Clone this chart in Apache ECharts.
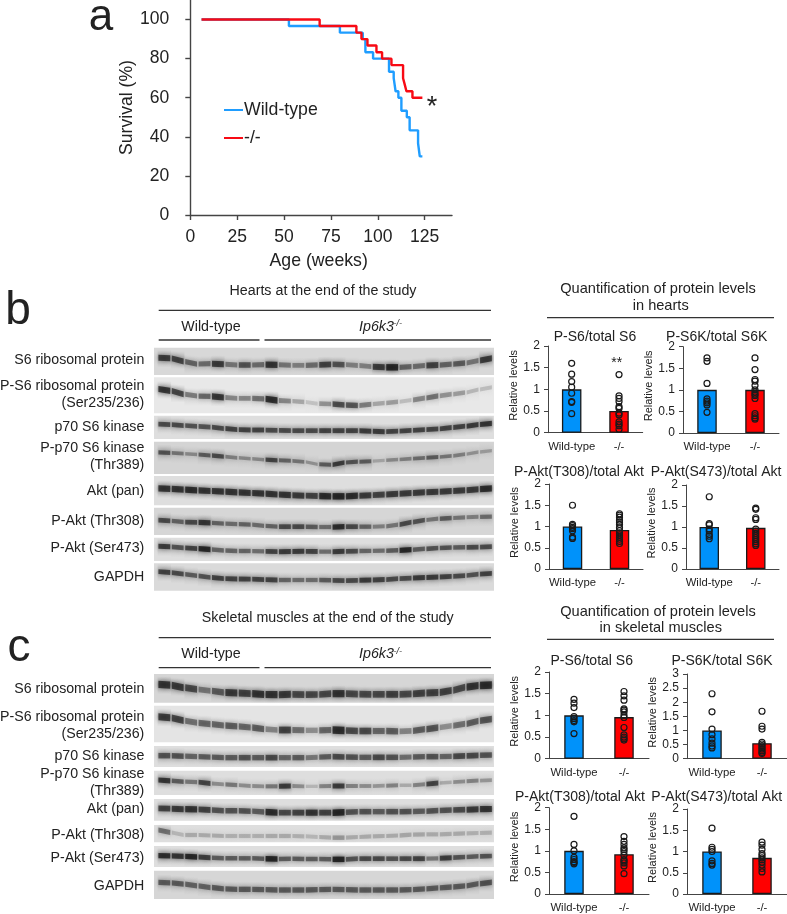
<!DOCTYPE html>
<html><head><meta charset="utf-8">
<style>html,body{margin:0;padding:0;background:#fff}#c{width:787px;height:914px}</style>
<script src="https://cdn.jsdelivr.net/npm/echarts@6/dist/echarts.min.js"></script>
</head><body><div id="c"></div>
<script>
// ---------- survival (week, percent) ----------
var survivalWT=[[6,100],[52.6,96.7],[79.8,93.3],[92,90],[93.4,83.3],[97.5,80],[106,73.3],[108.5,70],[109,66.7],[109.5,63.3],[111,60],[112.6,53.3],[115.5,50],[117,43.3],[121.5,36.7],[122.4,30],[123.8,30]];
var survivalKO=[[6,100],[69,96.7],[88.6,93.3],[91.3,90],[94.5,86.7],[99.3,83.3],[102.3,80],[107.3,76.7],[113.5,70],[114.4,66.7],[115.3,63.3],[118.5,60],[123.8,60]];
// ---------- quantification ----------
var groups=['Wild-type','-/-'];
var hS6Bars=[1,0.5], hS6WT=[1.6,1.35,1.18,1.05,0.91,0.72,0.7,0.44], hS6KO=[1.34,0.85,0.79,0.72,0.6,0.56,0.45,0.41,0.25,0.2,0.16,0.08];
var hS6KBars=[1,1], hS6KWT=[1.74,1.66,1.15,0.79,0.74,0.7,0.65,0.48], hS6KKO=[1.74,1.47,1.24,1.2,1.1,1,0.95,0.9,0.87,0.8,0.45,0.4,0.35,0.32];
var hT308Bars=[1,0.92], hT308WT=[1.5,1.05,1.02,0.98,0.95,0.9,0.75,0.72], hT308KO=[1.3,1.27,1.22,1.15,1.1,1.05,0.97,0.9,0.85,0.8,0.75,0.7,0.65,0.6];
var hS473Bars=[1,0.98], hS473WT=[1.72,1.08,1.05,0.95,0.9,0.82,0.78,0.72], hS473KO=[1.45,1.42,1.22,1.18,0.95,0.9,0.85,0.8,0.75,0.7,0.65,0.6,0.56];
var mS6Bars=[1,0.96], mS6WT=[1.37,1.28,1.18,0.97,0.93,0.88,0.85,0.58], mS6KO=[1.55,1.45,1.35,1.15,1.12,1.08,1,0.95,0.72,0.55,0.5,0.46,0.43];
var mS6KBars=[1,0.55], mS6KWT=[2.3,1.66,1.05,0.85,0.7,0.55,0.45,0.38], mS6KKO=[1.68,1.15,1.05,0.58,0.52,0.46,0.4,0.34,0.28,0.22,0.18];
var mT308Bars=[1,0.92], mT308WT=[1.8,1.15,1,0.85,0.8,0.75,0.73,0.7], mT308KO=[1.33,1.22,1.15,1.07,1.03,0.98,0.9,0.8,0.76,0.72,0.65,0.47];
var mS473Bars=[1,0.85], mS473WT=[1.55,1.1,1.05,1,0.78,0.72,0.68], mS473KO=[1.22,1.15,1.05,0.95,0.9,0.85,0.8,0.75,0.68,0.6,0.52];
// ---------- blots: band density and migration per lane (25 lanes) ----------
var blotLabels=[['S6 ribosomal protein'],['P-S6 ribosomal protein','(Ser235/236)'],['p70 S6 kinase'],['P-p70 S6 kinase','(Thr389)'],['Akt (pan)'],['P-Akt (Thr308)'],['P-Akt (Ser473)'],['GAPDH']];
var hDensity=[
[.8,.75,.55,.5,.8,.45,.65,.5,.85,.45,.4,.5,.75,.65,.4,.4,.8,.95,.55,.5,.75,.55,.6,.45,.8],
[.85,.75,.45,.55,.85,.4,.4,.5,.9,.4,.25,.12,.35,.7,.65,.45,.25,.3,.15,.4,.5,.35,.3,.18,.15],
[.7,.7,.65,.65,.7,.75,.75,.75,.7,.7,.7,.7,.75,.75,.75,.8,.8,.75,.75,.75,.75,.75,.75,.8,.85],
[.65,.45,.35,.6,.7,.4,.35,.35,.75,.55,.45,.3,.6,.8,.65,.6,.2,.35,.4,.5,.6,.45,.4,.3,.25],
[.85,.85,.9,.85,.85,.85,.85,.85,.85,.85,.8,.75,.9,.95,.9,.8,.75,.8,.8,.8,.8,.8,.8,.8,.9],
[.7,.55,.7,.85,.55,.5,.55,.5,.55,.7,.7,.6,.5,.9,.7,.55,.4,.45,.7,.65,.45,.6,.45,.4,.5],
[.8,.65,.75,.95,.55,.55,.55,.5,.75,.8,.8,.75,.5,.8,.7,.55,.5,.6,.95,.6,.65,.65,.6,.7,.7],
[.75,.7,.6,.65,.75,.75,.75,.75,.75,.55,.5,.5,.6,.7,.7,.8,.75,.7,.7,.8,.8,.75,.7,.65,.75]];
var hMigration=[
[233,237,252,252,250,255,255,255,253,256,256,256,253,253,255,258,262,262,262,258,255,255,250,248,235],
[327,338,348,348,350,355,355,355,358,365,362,370,372,372,378,375,370,368,362,358,350,345,340,335,322],
[432,435,438,440,443,448,450,450,450,452,452,452,452,452,452,452,455,455,452,450,448,445,440,437,430],
[517,520,522,525,528,532,535,538,540,542,543,548,558,550,545,545,542,540,537,535,532,530,525,520,512],
[625,628,630,632,634,636,638,640,642,645,646,648,648,650,648,646,645,642,640,638,636,634,632,630,625],
[720,725,727,727,730,732,733,735,740,740,740,740,742,740,740,740,740,738,730,723,717,715,713,711,710],
[799,802,805,807,810,813,813,813,815,815,814,814,815,815,813,813,812,812,810,808,805,803,802,802,800],
[875,880,885,890,895,897,897,898,900,900,900,900,900,902,902,900,900,897,895,893,892,890,888,885,880]];
var hRowTop=[203,292,407,485,588,683,773,850], hRowBottom=[285,400,477,582,676,765,843,932];
var hRowGray=[216,232,222,212,222,214,222,218];
var hRowThick=[6,6,5,4.5,6,5,5,5];
var hLabelY=[240,[318,369],440,[503,555],634,722,803,890];
var mDensity=[
[.85,.8,.7,.45,.6,.8,.75,.85,.85,.8,.7,.7,.7,.85,.7,.7,.7,.75,.7,.75,.75,.75,.7,.85,.9],
[.8,.75,.5,.55,.55,.6,.55,.6,.4,.75,.5,.35,.55,.9,.7,.7,.55,.6,.4,.6,.65,.35,.5,.6,.65],
[.65,.65,.55,.6,.6,.6,.65,.6,.7,.55,.6,.45,.6,.7,.65,.6,.7,.65,.5,.6,.65,.55,.7,.7,.65],
[.85,.6,.45,.75,.35,.45,.35,.35,.45,.8,.35,.15,.4,.8,.4,.35,.3,.4,.2,.4,.75,.2,.35,.4,.3],
[.75,.8,.85,.75,.65,.65,.65,.6,.9,.7,.75,.85,.75,.95,.65,.65,.6,.65,.65,.6,.65,.65,.7,.8,.85],
[.5,.15,.2,.2,.2,.18,.18,.18,.2,.2,.18,.15,.2,.3,.2,.2,.2,.2,.22,.22,.2,.2,.2,.18,.18],
[.9,.85,.95,.8,.6,.6,.6,.6,.98,.6,.6,.6,.6,.98,.65,.7,.7,.65,.7,.75,.45,.8,.65,.6,.65],
[.6,.6,.55,.55,.6,.6,.6,.6,.6,.6,.6,.6,.6,.6,.6,.6,.6,.6,.6,.6,.6,.6,.6,.6,.65]];
var mMigration=[
[253,258,268,268,277,278,280,282,285,283,283,285,282,280,282,283,283,283,283,280,278,277,265,258,255],
[350,357,367,370,375,378,380,385,390,390,390,392,390,390,393,393,393,393,395,390,385,380,375,368,357],
[467,467,470,470,473,473,473,473,473,473,473,473,470,470,472,472,472,472,472,470,470,470,468,467,465],
[540,545,545,548,553,553,558,558,560,558,558,560,558,558,558,558,558,556,556,555,550,548,545,543,540],
[625,627,628,628,632,632,633,634,638,638,638,638,638,638,635,635,635,635,635,634,633,630,630,628,627],
[690,705,705,705,708,708,708,708,708,708,708,710,712,714,712,710,708,708,705,703,703,703,700,700,698],
[767,768,770,772,774,775,775,775,778,776,776,778,776,780,776,776,776,776,776,776,776,774,772,770,768],
[847,850,855,860,865,868,868,868,870,870,870,870,868,868,870,870,870,870,870,868,865,862,860,855,847]];
var mRowTop=[222,317,438,512,597,675,738,812], mRowBottom=[308,427,501,585,662,727,801,897];
var mRowGray=[214,228,222,222,222,222,222,214];
var mRowThick=[7,7,6,5,6,6,5,6];
var mLabelY=[266,[351,402],468,[522,574],628,704,773,857];

// ---------- styles ----------
var FF='"Liberation Sans",Arial,sans-serif', TXT='#222', AX='#444';
var BLUE='#0092fa', RED='#ff0000';
var grids=[],xAxes=[],yAxes=[],series=[],gfx=[];
function text(x,y,s,size,align,extra){gfx.push({type:'text',silent:true,x:x,y:y,style:Object.assign({text:s,fill:TXT,font:(size)+'px '+FF,textAlign:align||'center',textVerticalAlign:'middle'},extra||{})});}
function hline(x1,x2,y,w,c){gfx.push({type:'line',silent:true,shape:{x1:x1,y1:y,x2:x2,y2:y},style:{stroke:c||'#333',lineWidth:w||1.2}});}

// ---------- panel a ----------
grids.push({left:190.3,top:0,width:261.7,height:215});
xAxes.push({gridIndex:0,type:'value',min:0,max:139.6,splitLine:{show:false},
 axisLine:{onZero:false,lineStyle:{color:AX,width:1.4}},
 axisTick:{length:5,lineStyle:{color:AX,width:1.4},customValues:[0,25,50,75,100,125]},
 axisLabel:{customValues:[0,25,50,75,100,125],color:TXT,fontFamily:FF,fontSize:17.5,margin:13},
 name:'Age (weeks)',nameLocation:'middle',nameGap:37,nameTextStyle:{color:TXT,fontFamily:FF,fontSize:17.7,padding:[0,0,0,-5]}});
yAxes.push({gridIndex:0,type:'value',min:0,max:110,splitLine:{show:false},
 axisLine:{lineStyle:{color:AX,width:1.4}},
 axisTick:{length:5,lineStyle:{color:AX,width:1.4},customValues:[0,20,40,60,80,100]},
 axisLabel:{customValues:[0,20,40,60,80,100],color:TXT,fontFamily:FF,fontSize:17.5,margin:21},
 name:'Survival (%)',nameLocation:'middle',nameGap:52,nameTextStyle:{color:TXT,fontFamily:FF,fontSize:17.6}});
series.push({name:'Wild-type',type:'line',xAxisIndex:0,yAxisIndex:0,step:'end',showSymbol:false,data:survivalWT,lineStyle:{color:'#1f9dff',width:2.4},itemStyle:{color:'#1f9dff'},silent:true,z:3});
series.push({name:'-/-',type:'line',xAxisIndex:0,yAxisIndex:0,step:'end',showSymbol:false,data:survivalKO,lineStyle:{color:'#f80a14',width:2.4},itemStyle:{color:'#f80a14'},silent:true,z:4});
text(101,18,'a',44);
text(432,108,'*',27);

// ---------- blots ----------
function blotPanel(top,height,density,migration,rowTop,rowBottom,rowGray,rowThick,labelY){
  var gi=grids.length, GEL=3;
  grids.push({left:154,top:top,width:340,height:height});
  xAxes.push({gridIndex:gi,type:'value',min:-0.77,max:24.6,show:false});
  yAxes.push({gridIndex:gi,type:'value',min:0,max:height*GEL,inverse:true,show:false});
  series.push({type:'custom',xAxisIndex:gi,yAxisIndex:gi,silent:true,z:1,
    data:rowTop.map(function(t,i){return [rowTop[i],rowBottom[i],rowGray[i]];}),
    encode:{y:[0,1]},
    renderItem:function(p,api){
      var a=api.coord([-0.77,api.value(0)]),b=api.coord([24.6,api.value(1)]),g=api.value(2);
      return {type:'rect',shape:{x:a[0],y:a[1],width:b[0]-a[0],height:b[1]-a[1]},style:{fill:'rgb('+g+','+g+','+g+')'}};
    }});
  density.forEach(function(row,r){
    var ys=migration[r];
    series.push({type:'custom',xAxisIndex:gi,yAxisIndex:gi,silent:true,z:2,clip:true,
      data:row.map(function(d,l){return [l,ys[l],d];}),
      encode:{x:0,y:1},
      renderItem:function(p,api){
        var l=api.value(0),d=api.value(2);
        var yL=(ys[Math.max(l-1,0)]+ys[l])/2, yR=(ys[l]+ys[Math.min(l+1,24)])/2;
        var L=api.coord([l-0.44,yL]),R=api.coord([l+0.44,yR]),C=api.coord([l,ys[l]]);
        var top_=api.coord([l,rowTop[r]])[1],bot=api.coord([l,rowBottom[r]])[1];
        var t=rowThick[r]*(0.6+0.5*d)/2;
        var haloH=Math.min(C[1]-top_,8);
        var tail=Math.min(bot-C[1],10);
        var hw=6.7;
        function alpha(a){return 'rgba(20,20,20,'+a+')';}
        return {type:'group',children:[
          {type:'rect',shape:{x:C[0]-hw,y:C[1]-haloH,width:hw*2,height:haloH+tail},
           style:{fill:{type:'linear',x:0,y:0,x2:0,y2:1,colorStops:[{offset:0,color:alpha(0)},{offset:haloH/(haloH+tail),color:alpha(0.22*d)},{offset:1,color:alpha(0)}]}}},
          {type:'polygon',shape:{points:[[L[0],L[1]-t],[R[0],R[1]-t],[R[0],R[1]+t],[L[0],L[1]+t]]},
           style:{fill:alpha(0.05+0.8*d),shadowBlur:5,shadowColor:alpha(0.1+0.8*d)}}
        ]};
      }});
  });
  labelY.forEach(function(y,i){
    blotLabels[i].forEach(function(s,j){
      var gy=Array.isArray(y)?y[j]:y;
      text(144.3,top+gy/GEL,s,14.2,'right');
    });
  });
}
blotPanel(280,320,hDensity,hMigration,hRowTop,hRowBottom,hRowGray,hRowThick,hLabelY);
blotPanel(600,314,mDensity,mMigration,mRowTop,mRowBottom,mRowGray,mRowThick,mLabelY);

function blotHeader(title,cx,yT,yL1,yW,yL2){
  text(cx,yT,title,14.25);
  hline(158.7,491,yL1,1.3);
  text(211,yW,'Wild-type',14.25);
  hline(158.7,259.5,yL2,1.3);
  hline(264.5,491,yL2,1.3);
  text(359,yW,'Ip6k3',14.25,'left',{font:'italic 14.25px '+FF});
  text(393.5,yW-3,'-/-',9,'left',{font:'italic 9px '+FF});
}
blotHeader('Hearts at the end of the study',323,291,310.3,326.7,340);
blotHeader('Skeletal muscles at the end of the study',327.7,618,637.7,654,667.7);
text(18,311,'b',46); text(19,648,'c',46);

// ---------- bar panels ----------
function barPanel(title,tx,ty,left,right,y0,yTop,maxV,bars,wt,ko,nameGap){
  var gi=grids.length;
  grids.push({left:left,top:yTop,width:right-left,height:y0-yTop});
  xAxes.push({gridIndex:gi,type:'category',data:groups,
    axisLine:{lineStyle:{color:AX,width:1}},axisTick:{length:4,lineStyle:{color:AX}},
    axisLabel:{interval:0,color:TXT,fontFamily:FF,fontSize:11.3,margin:8.5}});
  yAxes.push({gridIndex:gi,type:'value',min:0,max:maxV,interval:0.5,splitLine:{show:false},
    axisLine:{show:true,lineStyle:{color:AX,width:1}},axisTick:{show:true,length:4,lineStyle:{color:AX}},
    axisLabel:{color:TXT,fontFamily:FF,fontSize:12,margin:8,formatter:function(v){return String(v);}},
    name:'Relative levels',nameLocation:'middle',nameGap:nameGap,nameTextStyle:{color:TXT,fontFamily:FF,fontSize:11,padding:[0,0,0,8]}});
  series.push({type:'bar',xAxisIndex:gi,yAxisIndex:gi,silent:true,barWidth:19.5,z:2,
    data:[{value:bars[0],itemStyle:{color:BLUE}},{value:bars[1],itemStyle:{color:RED}}],
    itemStyle:{borderColor:'#1a1a1a',borderWidth:1.3}});
  var pts=wt.map(function(v){return [0,v];}).concat(ko.map(function(v){return [1,v];}));
  series.push({type:'scatter',xAxisIndex:gi,yAxisIndex:gi,silent:true,z:3,symbolSize:6,data:pts,
    itemStyle:{color:'rgba(0,0,0,0)',borderColor:'#1a1a1a',borderWidth:1.2,opacity:1}});
  text(tx,ty,title,14);
}
barPanel('P-S6/total S6',595,336.7,548,642.7,432.7,346,2,hS6Bars,hS6WT,hS6KO,25);
barPanel('P-S6K/total S6K',716.7,336.7,683,779,433,346.7,2,hS6KBars,hS6KWT,hS6KKO,23);
barPanel('P-Akt(T308)/total Akt',579,471.7,549,643,569,484,2,hT308Bars,hT308WT,hT308KO,26);
barPanel('P-Akt(S473)/total Akt',716,471.7,686,779,569,485,2,hS473Bars,hS473WT,hS473KO,26);
barPanel('P-S6/total S6',591.7,661,549,649,758.7,672,2,mS6Bars,mS6WT,mS6KO,26);
barPanel('P-S6K/total S6K',722,661,687,787,758.7,674,3,mS6KBars,mS6KWT,mS6KKO,27);
barPanel('P-Akt(T308)/total Akt',580,796.7,549,649,894,807.7,2,mT308Bars,mT308WT,mT308KO,26);
barPanel('P-Akt(S473)/total Akt',716.7,796.7,687,787,894,809,2,mS473Bars,mS473WT,mS473KO,27);
text(616.7,363.5,'**',14);

text(658,289.3,'Quantification of protein levels',14.6);
text(660.7,306,'in hearts',14.6);
hline(547,774,317.7,1.3);
text(658,611.7,'Quantification of protein levels',14.6);
text(660.7,628,'in skeletal muscles',14.6);
hline(547,774,639.3,1.3);

var chart=echarts.init(document.getElementById('c'),null,{renderer:'canvas'});
chart.setOption({
  backgroundColor:'#fff',animation:false,
  grid:grids,xAxis:xAxes,yAxis:yAxes,series:series,graphic:{elements:gfx},
  legend:{data:['Wild-type','-/-'],orient:'vertical',left:219,top:96,itemWidth:19,itemHeight:14,itemGap:10,selectedMode:false,
    icon:'path://M0 6.5H19V8.5H0Z',
    textStyle:{color:TXT,fontFamily:FF,fontSize:17.7,padding:[0,0,0,-4]}},
  tooltip:{show:false}
});
</script></body></html>
